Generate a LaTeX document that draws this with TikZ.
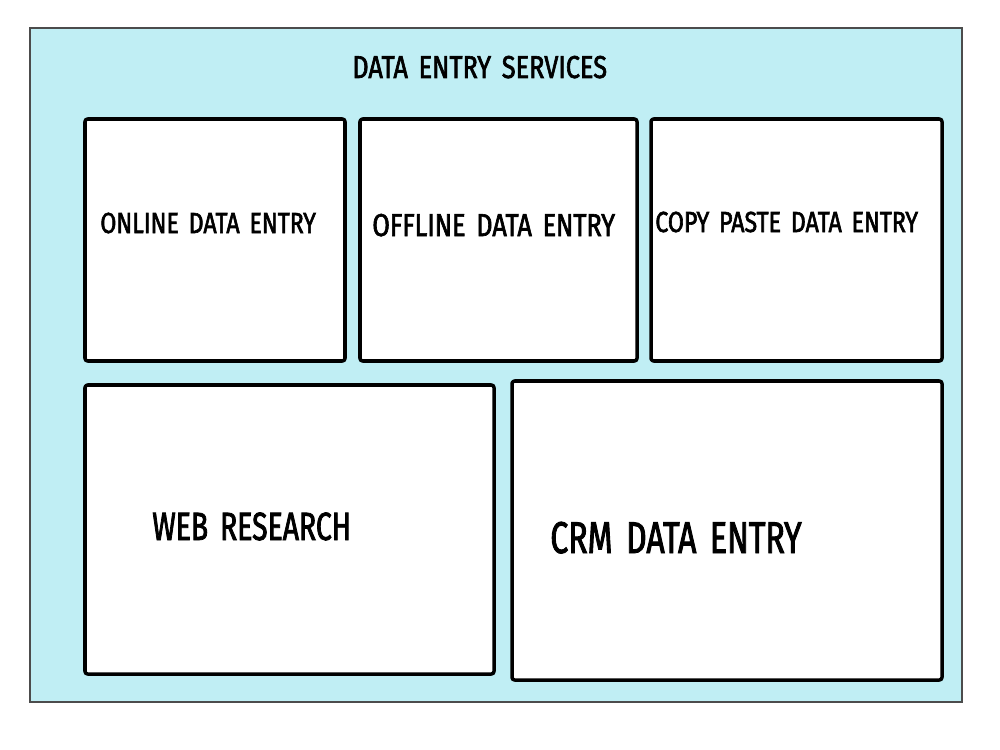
\documentclass[tikz,border=0pt]{standalone}
\usepackage{fontspec}
\newfontfamily\handfont[FakeStretch=0.8,FakeBold=2,WordSpace=1.6]{Fira Sans}
\newfontfamily\handnarrow[FakeStretch=0.72,FakeBold=2,WordSpace=1.6]{Fira Sans}
\usetikzlibrary{positioning,calc,fit}
\usepackage{xcolor}
\definecolor{panelbg}{HTML}{C0EEF4}

\begin{document}
\begin{tikzpicture}[x=0.02cm,y=-0.02cm,
    panel/.style={draw=black,fill=white,line width=2pt,line join=round,inner sep=0pt,rounded corners=1.5pt},
    lbl/.style={anchor=base west,inner sep=0pt}]
\useasboundingbox[fill=white] (0,0) rectangle (1000,750);
% background sheet
\draw[fill=panelbg,draw=black!70,line width=0.9pt] (30,28) rectangle (962,702);
\node[lbl,font=\handfont\fontsize{18}{20}\selectfont] (title) at (352,78) {DATA ENTRY SERVICES};

% top row
\node[panel,fit={(85,119) (345,361)}] (online) {};
\node[panel,fit={(360,119) (637,361)}] (offline) {};
\node[panel,fit={(651,119) (942,361)}] (copypaste) {};
% bottom row
\node[panel,fit={(85,385) (494,674)}] (web) {};
\node[panel,fit={(512,381) (942,680)}] (crm) {};

\node[lbl,font=\handfont\fontsize{16.5}{18}\selectfont] (onlinetxt) at (100,233) {ONLINE DATA ENTRY};
\node[lbl,font=\handfont\fontsize{18}{20}\selectfont] (offlinetxt) at (372,236) {OFFLINE DATA ENTRY};
\node[lbl,font=\handfont\fontsize{16.5}{18}\selectfont] (copytxt) at (655,232) {COPY PASTE DATA ENTRY};
\node[lbl,font=\handnarrow\fontsize{22.4}{24}\selectfont] (webtxt) at (152,540) {WEB RESEARCH};
\node[lbl,font=\handnarrow\fontsize{25.3}{28}\selectfont] (crmtxt) at (550,553) {CRM DATA ENTRY};
\end{tikzpicture}
\end{document}
